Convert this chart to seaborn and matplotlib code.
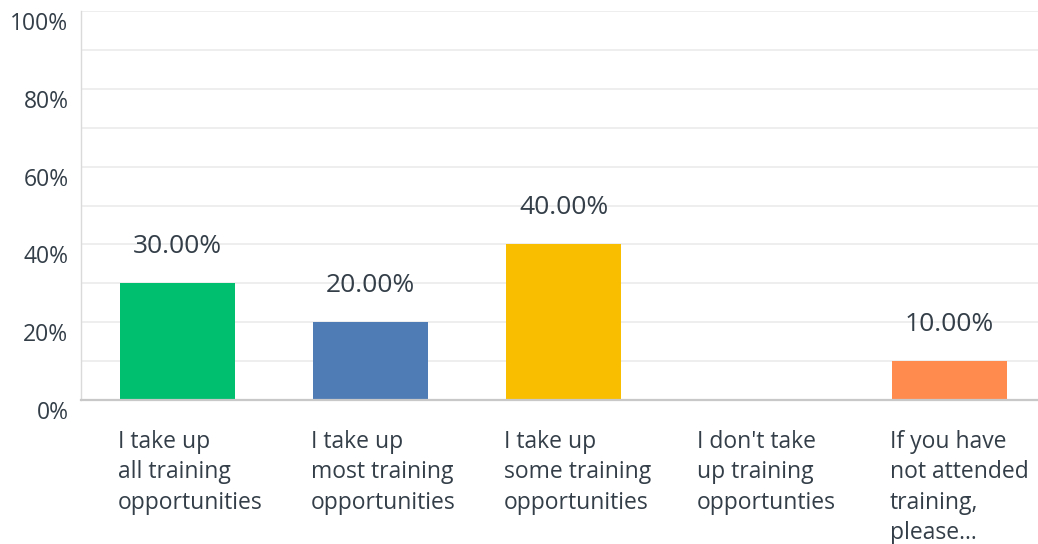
import matplotlib
matplotlib.use("Agg")
import matplotlib.pyplot as plt
import matplotlib.transforms as mtransforms
import seaborn as sns
import pandas as pd

categories = [
    "I take up\nall training\nopportunities",
    "I take up\nmost training\nopportunities",
    "I take up\nsome training\nopportunities",
    "I don't take\nup training\nopportunties",
    "If you have\nnot attended\ntraining,\nplease...",
]
percentages = [30.0, 20.0, 40.0, 0.0, 10.0]
value_labels = ["30.00%", "20.00%", "40.00%", "", "10.00%"]
bar_colors = ["#00BF6F", "#507CB6", "#F9BE00", "#A0A0A0", "#FF8B4F"]
y_ticks = [0, 20, 40, 60, 80, 100]
y_tick_labels = ["0%", "20%", "40%", "60%", "80%", "100%"]

sns.set_theme(style="white")
plt.rcParams["font.family"] = ["Open Sans", "DejaVu Sans"]
text_color = "#333E48"

df = pd.DataFrame({"category": categories, "pct": percentages})

fig = plt.figure(figsize=(10.38, 5.44), dpi=100)
ax = fig.add_axes([81 / 1038, 144 / 544, 965 / 1038, 389 / 544])

bar_width = 0.6
sns.barplot(data=df, x="category", y="pct", hue="category",
            palette=bar_colors, width=bar_width, legend=False,
            saturation=1, ax=ax, linewidth=0)

ax.set_xlim(-0.5, len(categories) - 0.5)
ax.set_ylim(0, 100)

# horizontal grid every 10%
for g in range(10, 101, 10):
    ax.axhline(g, color="#E9E9E9", linewidth=1.1, zorder=0)
ax.set_axisbelow(True)

ax.set_yticks(y_ticks)
ax.set_yticklabels(y_tick_labels, fontsize=16.5, color=text_color)
ax.tick_params(axis="y", length=0, pad=9)
shift = mtransforms.ScaledTranslation(0, -10 / 100, fig.dpi_scale_trans)
for lbl in ax.get_yticklabels():
    lbl.set_transform(lbl.get_transform() + shift)

ax.set_xticks([])
ax.set_xlabel("")
ax.set_ylabel("")

for side in ["top", "right"]:
    ax.spines[side].set_visible(False)
ax.spines["left"].set_color("#DADADA")
ax.spines["left"].set_linewidth(1.0)
ax.spines["bottom"].set_color("#C8C8C8")
ax.spines["bottom"].set_linewidth(1.6)

# category labels, left-aligned under each bar
label_tf = mtransforms.blended_transform_factory(ax.transData, ax.transAxes)
for i, cat in enumerate(categories):
    ax.text(i - bar_width / 2 - 0.01, -0.076, cat, transform=label_tf,
            ha="left", va="top", fontsize=16.5, color=text_color,
            linespacing=1.36)

# value labels above bars
for i, (v, s) in enumerate(zip(percentages, value_labels)):
    if s:
        ax.annotate(s, xy=(i, v), xytext=(0, 22), textcoords="offset points",
                    ha="center", va="baseline", fontsize=19,
                    color=text_color)

fig.savefig("out.png", dpi=100)
